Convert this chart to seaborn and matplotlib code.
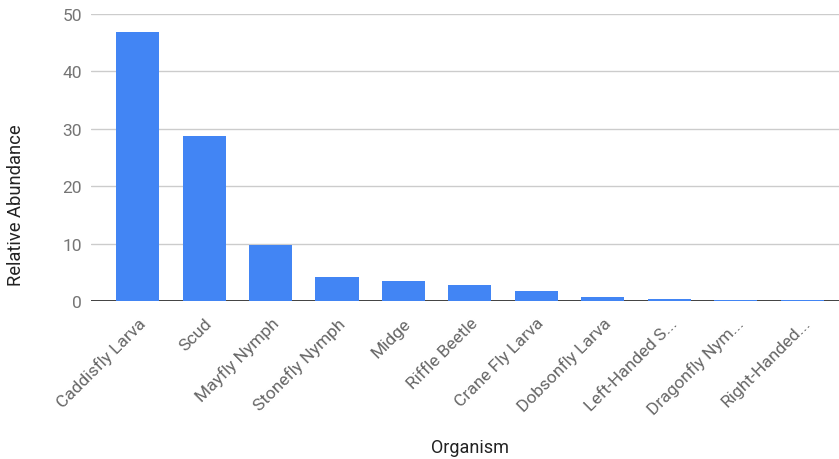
import matplotlib
matplotlib.use("Agg")
import matplotlib.pyplot as plt
import pandas as pd
import seaborn as sns

organisms = [
    "Caddisfly Larva", "Scud", "Mayfly Nymph", "Stonefly Nymph", "Midge",
    "Riffle Beetle", "Crane Fly Larva", "Dobsonfly Larva", "Left-Handed S...",
    "Dragonfly Nym...", "Right-Handed...",
]
abundance = [46.9, 28.7, 9.8, 4.2, 3.4, 2.8, 1.8, 0.65, 0.4, 0.2, 0.2]
y_ticks = [0, 10, 20, 30, 40, 50]

df = pd.DataFrame({"Organism": organisms, "Relative Abundance": abundance})

sns.set_theme(style="white")
plt.rcParams["font.family"] = ["Roboto", "DejaVu Sans"]

W, H = 839, 460
fig = plt.figure(figsize=(W / 100, H / 100), dpi=100)
ax = fig.add_axes([91 / W, 1 - 302 / H, (W - 91) / W, (302 - 15) / H])

sns.barplot(data=df, x="Organism", y="Relative Abundance", color="#4285F4",
            saturation=1, width=0.647, linewidth=0, ax=ax, zorder=3)

ax.set_ylim(0, 50)
ax.set_xlim(-0.70, 10.55)
ax.set_yticks(y_ticks)
ax.set_yticklabels([str(t) for t in y_ticks], fontsize=12.5, color="#757575")
ax.yaxis.grid(True, color="#cccccc", linewidth=1, zorder=0)
ax.axhline(0, color="#333333", linewidth=1.3, zorder=2)
for s in ax.spines.values():
    s.set_visible(False)
ax.tick_params(axis="both", length=0)
ax.tick_params(axis="y", pad=6.5)
ax.set_xticks(range(len(organisms)))
ax.set_xticklabels(organisms, rotation=45, ha="right", rotation_mode="anchor",
                   fontsize=12.5, color="#666666")
ax.tick_params(axis="x", pad=10)

# axis titles placed in figure pixels, like the reference
ax.set_xlabel("Organism", fontsize=13, color="#222222")
ax.xaxis.set_label_coords(470 / W, 1 - 448 / H, transform=fig.transFigure)
ax.xaxis.label.set_va("center")
ax.set_ylabel("Relative Abundance", fontsize=13.2, color="#222222")
ax.yaxis.set_label_coords(16 / W, 1 - 205 / H, transform=fig.transFigure)
ax.yaxis.label.set_va("center")

fig.savefig("out.png", dpi=100)
